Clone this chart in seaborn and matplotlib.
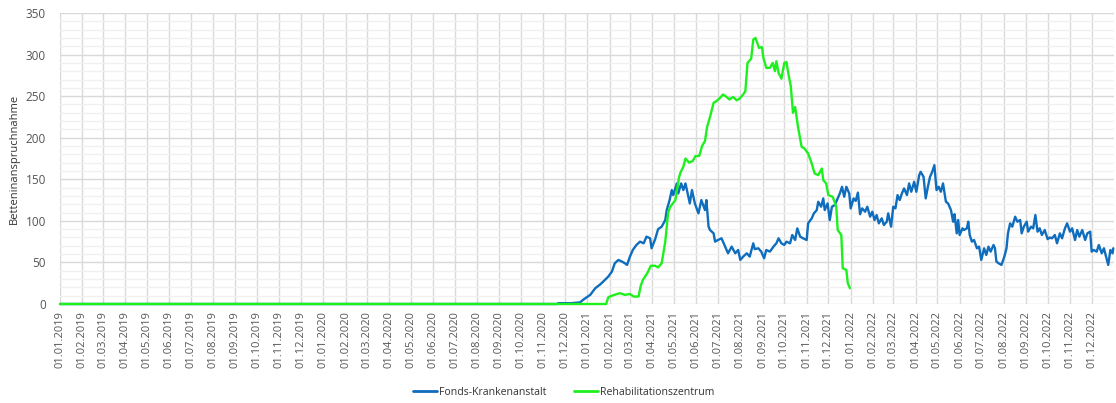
import pandas as pd
import seaborn as sns
from matplotlib import pyplot as plt
from matplotlib.ticker import MultipleLocator
import matplotlib.dates as mdates

# daily bed usage (roughly every 3-5 days)
blue_name = 'Fonds-Krankenanstalt'
blue_dates = [
    '2019-01-01', '2020-11-20', '2020-11-22', '2020-12-10', '2020-12-22', '2020-12-26',
    '2021-01-05', '2021-01-12', '2021-01-18', '2021-01-23', '2021-01-30', '2021-02-04',
    '2021-02-08', '2021-02-13', '2021-02-18', '2021-02-22', '2021-02-25', '2021-03-01',
    '2021-03-05', '2021-03-10', '2021-03-15', '2021-03-20', '2021-03-24', '2021-03-29',
    '2021-03-31', '2021-04-05', '2021-04-09', '2021-04-14', '2021-04-19', '2021-04-21',
    '2021-04-25', '2021-04-28', '2021-04-30', '2021-05-05', '2021-05-07', '2021-05-11',
    '2021-05-14', '2021-05-17', '2021-05-21', '2021-05-23', '2021-05-26', '2021-05-30',
    '2021-06-04', '2021-06-08', '2021-06-13', '2021-06-15', '2021-06-18', '2021-06-20',
    '2021-06-25', '2021-06-27', '2021-07-01', '2021-07-06', '2021-07-11', '2021-07-15',
    '2021-07-20', '2021-07-25', '2021-07-29', '2021-08-01', '2021-08-05', '2021-08-10',
    '2021-08-14', '2021-08-19', '2021-08-21', '2021-08-26', '2021-08-30', '2021-09-03',
    '2021-09-06', '2021-09-11', '2021-09-16', '2021-09-20', '2021-09-23', '2021-09-27',
    '2021-10-01', '2021-10-04', '2021-10-09', '2021-10-12', '2021-10-16', '2021-10-19',
    '2021-10-23', '2021-10-27', '2021-11-01', '2021-11-03', '2021-11-08', '2021-11-11',
    '2021-11-15', '2021-11-17', '2021-11-21', '2021-11-24', '2021-11-26', '2021-11-30',
    '2021-12-03', '2021-12-06', '2021-12-10', '2021-12-14', '2021-12-17', '2021-12-20',
    '2021-12-23', '2021-12-26', '2021-12-30', '2022-01-01', '2022-01-05', '2022-01-08',
    '2022-01-11', '2022-01-14', '2022-01-17', '2022-01-21', '2022-01-24', '2022-01-28',
    '2022-01-31', '2022-02-03', '2022-02-06', '2022-02-09', '2022-02-13', '2022-02-16',
    '2022-02-20', '2022-02-22', '2022-02-26', '2022-03-01', '2022-03-04', '2022-03-07',
    '2022-03-10', '2022-03-13', '2022-03-16', '2022-03-20', '2022-03-23', '2022-03-26',
    '2022-03-30', '2022-04-02', '2022-04-06', '2022-04-08', '2022-04-12', '2022-04-15',
    '2022-04-18', '2022-04-21', '2022-04-24', '2022-04-27', '2022-04-30', '2022-05-03',
    '2022-05-06', '2022-05-09', '2022-05-13', '2022-05-16', '2022-05-20', '2022-05-23',
    '2022-05-25', '2022-05-28', '2022-05-30', '2022-06-01', '2022-06-05', '2022-06-07',
    '2022-06-11', '2022-06-13', '2022-06-15', '2022-06-18', '2022-06-21', '2022-06-25',
    '2022-06-28', '2022-07-01', '2022-07-05', '2022-07-08', '2022-07-11', '2022-07-14',
    '2022-07-18', '2022-07-20', '2022-07-22', '2022-07-25', '2022-07-29', '2022-08-02',
    '2022-08-05', '2022-08-07', '2022-08-10', '2022-08-13', '2022-08-17', '2022-08-20',
    '2022-08-24', '2022-08-26', '2022-08-29', '2022-09-02', '2022-09-04', '2022-09-08',
    '2022-09-11', '2022-09-14', '2022-09-17', '2022-09-20', '2022-09-23', '2022-09-27',
    '2022-10-01', '2022-10-04', '2022-10-07', '2022-10-11', '2022-10-14', '2022-10-18',
    '2022-10-21', '2022-10-25', '2022-10-28', '2022-11-01', '2022-11-04', '2022-11-08',
    '2022-11-11', '2022-11-14', '2022-11-18', '2022-11-22', '2022-11-25', '2022-11-29',
    '2022-12-01', '2022-12-04', '2022-12-08', '2022-12-11', '2022-12-15', '2022-12-18',
    '2022-12-21', '2022-12-24', '2022-12-27', '2022-12-30', '2022-12-31',
]
blue_values = [
    0, 0, 1, 1, 2, 5,
    11, 19, 23, 27, 33, 39,
    49, 53, 51, 49, 47, 57,
    65, 71, 75, 73, 81, 79,
    67, 78, 90, 93, 101, 113,
    125, 137, 131, 145, 133, 145,
    137, 145, 129, 121, 137, 121,
    109, 125, 113, 125, 93, 89,
    85, 75, 77, 79, 69, 61,
    69, 61, 65, 53, 57, 61,
    57, 73, 66, 67, 63, 55,
    65, 63, 69, 73, 79, 73,
    71, 75, 73, 83, 77, 91,
    81, 79, 77, 97, 103, 109,
    113, 123, 117, 127, 113, 121,
    101, 117, 119, 127, 133, 141,
    129, 141, 133, 115, 127, 124,
    134, 108, 115, 111, 117, 105,
    111, 101, 107, 97, 103, 95,
    99, 109, 93, 117, 115, 131,
    125, 133, 139, 131, 145, 135,
    147, 135, 155, 159, 153, 127,
    141, 153, 159, 167, 137, 141,
    135, 145, 123, 121, 113, 99,
    108, 85, 101, 83, 91, 89,
    91, 99, 83, 75, 77, 67,
    69, 53, 67, 59, 69, 63,
    71, 67, 51, 49, 47, 57,
    67, 85, 97, 93, 105, 99,
    101, 85, 93, 99, 87, 93,
    91, 107, 87, 91, 83, 89,
    78, 80, 79, 83, 73, 85,
    79, 91, 97, 87, 91, 77,
    89, 81, 89, 77, 85, 87,
    63, 65, 63, 71, 61, 67,
    57, 47, 65, 61, 67,
]

green_name = 'Rehabilitationszentrum'
green_dates = [
    '2019-01-01', '2021-01-27', '2021-01-30', '2021-02-01', '2021-02-11', '2021-02-15',
    '2021-02-22', '2021-03-01', '2021-03-06', '2021-03-13', '2021-03-16', '2021-03-19',
    '2021-03-25', '2021-03-30', '2021-04-05', '2021-04-09', '2021-04-14', '2021-04-19',
    '2021-04-23', '2021-04-26', '2021-05-03', '2021-05-08', '2021-05-10', '2021-05-14',
    '2021-05-17', '2021-05-22', '2021-05-27', '2021-05-31', '2021-06-05', '2021-06-09',
    '2021-06-13', '2021-06-16', '2021-06-20', '2021-06-25', '2021-06-29', '2021-07-04',
    '2021-07-08', '2021-07-13', '2021-07-17', '2021-07-22', '2021-07-27', '2021-07-31',
    '2021-08-05', '2021-08-08', '2021-08-11', '2021-08-16', '2021-08-19', '2021-08-22',
    '2021-08-27', '2021-08-31', '2021-09-02', '2021-09-06', '2021-09-11', '2021-09-15',
    '2021-09-18', '2021-09-20', '2021-09-23', '2021-09-27', '2021-10-01', '2021-10-04',
    '2021-10-07', '2021-10-10', '2021-10-13', '2021-10-16', '2021-10-20', '2021-10-25',
    '2021-10-29', '2021-11-03', '2021-11-08', '2021-11-12', '2021-11-17', '2021-11-22',
    '2021-11-24', '2021-11-28', '2021-12-01', '2021-12-07', '2021-12-12', '2021-12-14',
    '2021-12-19', '2021-12-21', '2021-12-26', '2021-12-28', '2021-12-31',
]
green_values = [
    0, 0, 8, 9, 12, 13,
    11, 12, 9, 9, 22, 29,
    37, 46, 46, 44, 49, 75,
    110, 117, 125, 152, 158, 165,
    175, 170, 172, 178, 178, 190,
    196, 213, 225, 242, 244, 248,
    252, 249, 246, 249, 245, 247,
    252, 256, 290, 295, 318, 320,
    308, 309, 296, 284, 284, 290,
    280, 292, 278, 271, 290, 291,
    275, 262, 230, 237, 213, 189,
    187, 181, 169, 157, 155, 163,
    149, 145, 131, 129, 117, 89,
    83, 43, 41, 25, 19,
]

tick_dates = pd.date_range('2019-01-01', '2022-12-01', freq='MS')
y_label = 'Betteninanspruchnahme'

colors = {blue_name: '#0f6dbd', green_name: '#1ef01e'}

df = pd.concat([
    pd.DataFrame({'Datum': pd.to_datetime(blue_dates), 'Wert': blue_values, 'Serie': blue_name}),
    pd.DataFrame({'Datum': pd.to_datetime(green_dates), 'Wert': green_values, 'Serie': green_name}),
], ignore_index=True)

sns.set_style('white')
plt.rcParams['font.family'] = ['Open Sans', 'DejaVu Sans']

fig = plt.figure(figsize=(11.16, 4.03), dpi=100)
ax = fig.add_axes([60 / 1116, 1 - 304 / 403, 1054 / 1116, 291 / 403])

sns.lineplot(data=df, x='Datum', y='Wert', hue='Serie', palette=colors,
             linewidth=1.7, ax=ax, legend=False, zorder=3)
for line in ax.lines:
    line.set_clip_on(False)

ax.set_xlim(pd.Timestamp('2019-01-01'), pd.Timestamp('2023-01-01'))
ax.set_ylim(0, 350)
ax.yaxis.set_major_locator(MultipleLocator(50))
ax.yaxis.set_minor_locator(MultipleLocator(10))
ax.set_xticks(tick_dates)
ax.xaxis.set_major_formatter(mdates.DateFormatter('%d.%m.%Y'))
ax.tick_params(axis='x', rotation=90, labelsize=8, colors='#555555', length=0, pad=5)
ax.tick_params(axis='y', labelsize=8.5, colors='#555555', length=0, pad=10)
ax.grid(which='major', axis='both', color='#d9d9d9', linewidth=1)
ax.grid(which='minor', axis='y', color='#f0f0f0', linewidth=1)
ax.set_axisbelow(True)
for s in ax.spines.values():
    s.set_visible(False)
ax.set_xlabel('')
ax.set_ylabel(y_label, fontsize=8, color='#333333', labelpad=4)

handles = [plt.Line2D([], [], color=colors[n], linewidth=2) for n in (blue_name, green_name)]
fig.legend(handles, [blue_name, green_name], loc='center', bbox_to_anchor=(0.505, 0.027),
           ncol=2, frameon=False, fontsize=7.6, labelcolor='#333333',
           handlelength=2.3, handletextpad=0.15, columnspacing=2.6)

fig.savefig('out.png', dpi=100)
